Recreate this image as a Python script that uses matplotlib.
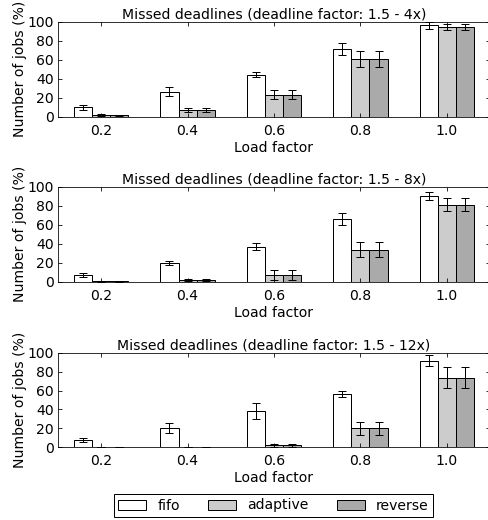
import matplotlib
matplotlib.use("Agg")
import matplotlib.pyplot as plt
import numpy as np

plt.rcParams['font.family'] = ['DejaVu Sans']
plt.rcParams['font.size'] = 14
plt.rcParams['xtick.direction'] = 'in'
plt.rcParams['ytick.direction'] = 'in'
plt.rcParams['xtick.top'] = True
plt.rcParams['ytick.right'] = True
plt.rcParams['xtick.major.size'] = 4
plt.rcParams['ytick.major.size'] = 4
plt.rcParams['xtick.major.pad'] = 7
plt.rcParams['ytick.major.pad'] = 4

load_factors = [0.2, 0.4, 0.6, 0.8, 1.0]
series_names = ["fifo", "adaptive", "reverse"]
titles = [
    "Missed deadlines (deadline factor: 1.5 - 4x)",
    "Missed deadlines (deadline factor: 1.5 - 8x)",
    "Missed deadlines (deadline factor: 1.5 - 12x)",
]

# panel 1 (1.5 - 4x)
fifo_4 = [9.8, 26.3, 44.2, 71.2, 96.1]
fifo_4_err = [3.0, 4.7, 2.5, 6.0, 3.3]
adaptive_4 = [1.8, 6.7, 23.2, 60.7, 94.7]
adaptive_4_err = [1.0, 2.0, 4.7, 8.4, 3.0]
reverse_4 = [1.5, 6.7, 23.2, 60.7, 94.7]
reverse_4_err = [0.8, 2.0, 4.7, 8.4, 3.0]

# panel 2 (1.5 - 8x)
fifo_8 = [7.0, 19.6, 36.8, 66.3, 90.5]
fifo_8_err = [2.0, 1.8, 3.5, 6.3, 4.2]
adaptive_8 = [0.3, 1.4, 6.7, 33.7, 81.1]
adaptive_8_err = [0.3, 1.0, 5.3, 8.0, 6.7]
reverse_8 = [0.3, 1.4, 6.7, 33.7, 81.1]
reverse_8_err = [0.3, 1.0, 5.3, 8.0, 6.7]

# panel 3 (1.5 - 12x)
fifo_12 = [7.4, 20.8, 38.4, 56.7, 91.5]
fifo_12_err = [2.1, 5.3, 8.1, 3.2, 5.6]
adaptive_12 = [0.1, 0.5, 2.1, 20.1, 73.6]
adaptive_12_err = [0.1, 0.3, 1.5, 7.0, 10.9]
reverse_12 = [0.1, 0.5, 2.1, 20.1, 73.6]
reverse_12_err = [0.1, 0.3, 1.5, 7.0, 10.9]

panels = [
    ([fifo_4, adaptive_4, reverse_4], [fifo_4_err, adaptive_4_err, reverse_4_err]),
    ([fifo_8, adaptive_8, reverse_8], [fifo_8_err, adaptive_8_err, reverse_8_err]),
    ([fifo_12, adaptive_12, reverse_12], [fifo_12_err, adaptive_12_err, reverse_12_err]),
]

colors = ["#ffffff", "#cccccc", "#aaaaaa"]
bar_w = 0.042
offsets = [-bar_w, 0.0, bar_w]

W, H = 488, 520
fig = plt.figure(figsize=(W / 72, H / 72), dpi=72)

axes_px = [(21.7, 116.7), (186.7, 281.7), (352.7, 447.3)]
left_px, right_px = 58, 490

x = np.array(load_factors)
handles = []
for i, ((vals, errs), (top, bot)) in enumerate(zip(panels, axes_px)):
    ax = fig.add_axes([left_px / W, 1 - bot / H, (right_px - left_px) / W, (bot - top) / H])
    for j in range(3):
        b = ax.bar(x + offsets[j], vals[j], bar_w, yerr=errs[j], color=colors[j],
                   edgecolor='black', linewidth=1.0, label=series_names[j],
                   error_kw=dict(ecolor='black', elinewidth=1.0, capsize=4, capthick=1.0))
        if i == 0:
            handles.append(b)
    ax.set_xlim(0.1, 1.1)
    ax.set_ylim(0, 100)
    ax.set_xticks(load_factors)
    ax.set_xticklabels([f"{v:.1f}" for v in load_factors])
    ax.set_yticks([0, 20, 40, 60, 80, 100])
    ax.set_title(titles[i], fontsize=14, pad=3)
    ax.set_xlabel("Load factor", labelpad=3)
    ax.set_ylabel("Number of jobs (%)", labelpad=1)

fig.legend(handles, series_names, loc='center', ncol=3,
           bbox_to_anchor=(273.5 / W, 1 - 505.5 / H), frameon=True,
           fancybox=False, edgecolor='black', framealpha=1,
           handlelength=2.0, columnspacing=2.0, borderpad=0.3)

fig.savefig("out.png", dpi=72)
